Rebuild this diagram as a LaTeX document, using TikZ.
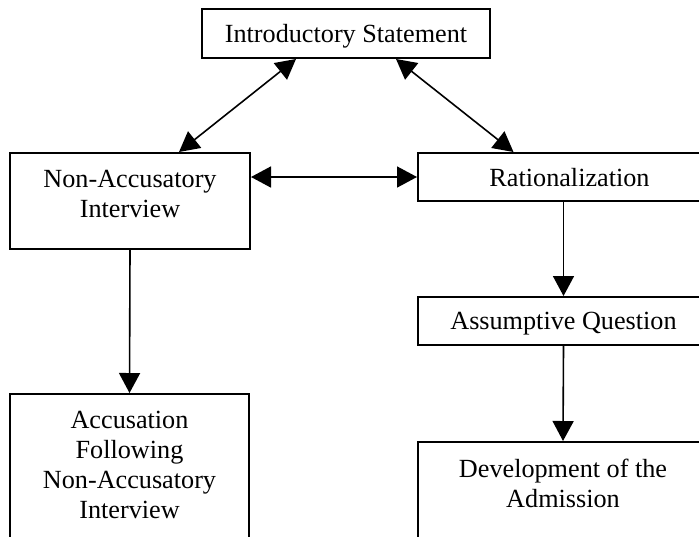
\documentclass[tikz,border=0pt]{standalone}
\usepackage{fontspec}
\setmainfont{Liberation Serif}
\usetikzlibrary{arrows.meta}
\usetikzlibrary{positioning}

\tikzset{
  box/.style={draw, line width=1pt, rectangle, inner sep=0pt, anchor=north west,
    font=\fontsize{13.1}{15}\selectfont, text depth=0pt},
  lbl/.style={inner sep=0pt, align=center, font=\fontsize{13.1}{15}\selectfont},
  arr/.style={line width=0.8pt, -{Triangle[length=10pt,width=10.5pt]}},
  darr/.style={line width=0.8pt, {Triangle[length=10pt,width=10.5pt]}-{Triangle[length=10pt,width=10.5pt]}}
}

\begin{document}
\begin{tikzpicture}[x=0.5pt, y=-0.5pt]
        \useasboundingbox (0,0) rectangle (699,536);
        \clip (0,0) rectangle (699,536);

        % Top box
        \node[box, minimum width=144pt, minimum height=24.5pt] (intro) at (201,8) {Introductory Statement};

        % Left column
        \node[box, minimum width=120pt, minimum height=48pt] (nonacc) at (9,152) {};
        \node[lbl, below=8.8pt of nonacc.north] (nonacctxt) {Non-Accusatory\\Interview};
        \node[box, minimum width=119.5pt, minimum height=84pt] (accus) at (9,393) {};
        \node[lbl, below=8.8pt of accus.north] (accustxt) {Accusation\\Following\\Non-Accusatory\\Interview};

        % Right column (runs off the right edge)
        \node[box, minimum width=151.5pt, minimum height=24pt] (rat) at (417,152) {Rationalization};
        \node[box, minimum width=145.5pt, minimum height=24pt] (assume) at (417,296) {Assumptive Question};
        \node[box, minimum width=145pt, minimum height=60pt] (dev) at (417,441) {};
        \node[lbl, below=8.8pt of dev.north] (devtxt) {Development of the\\Admission};

        % Two-way links
        \draw[darr] ([xshift=-25pt]intro.south) -- ([xshift=24.5pt]nonacc.north);
        \draw[darr] ([xshift=25pt]intro.south) -- ([xshift=-28pt]rat.north);
        \draw[darr] (nonacc.east |- rat.west) -- (rat.west);

        % One-way links
        \draw[arr] (nonacc.south) -- (accus.north);
        \draw[arr] (rat.south -| assume.north) -- (assume.north);
        \draw[arr] (assume.south) -- (dev.north);
\end{tikzpicture}
\end{document}
